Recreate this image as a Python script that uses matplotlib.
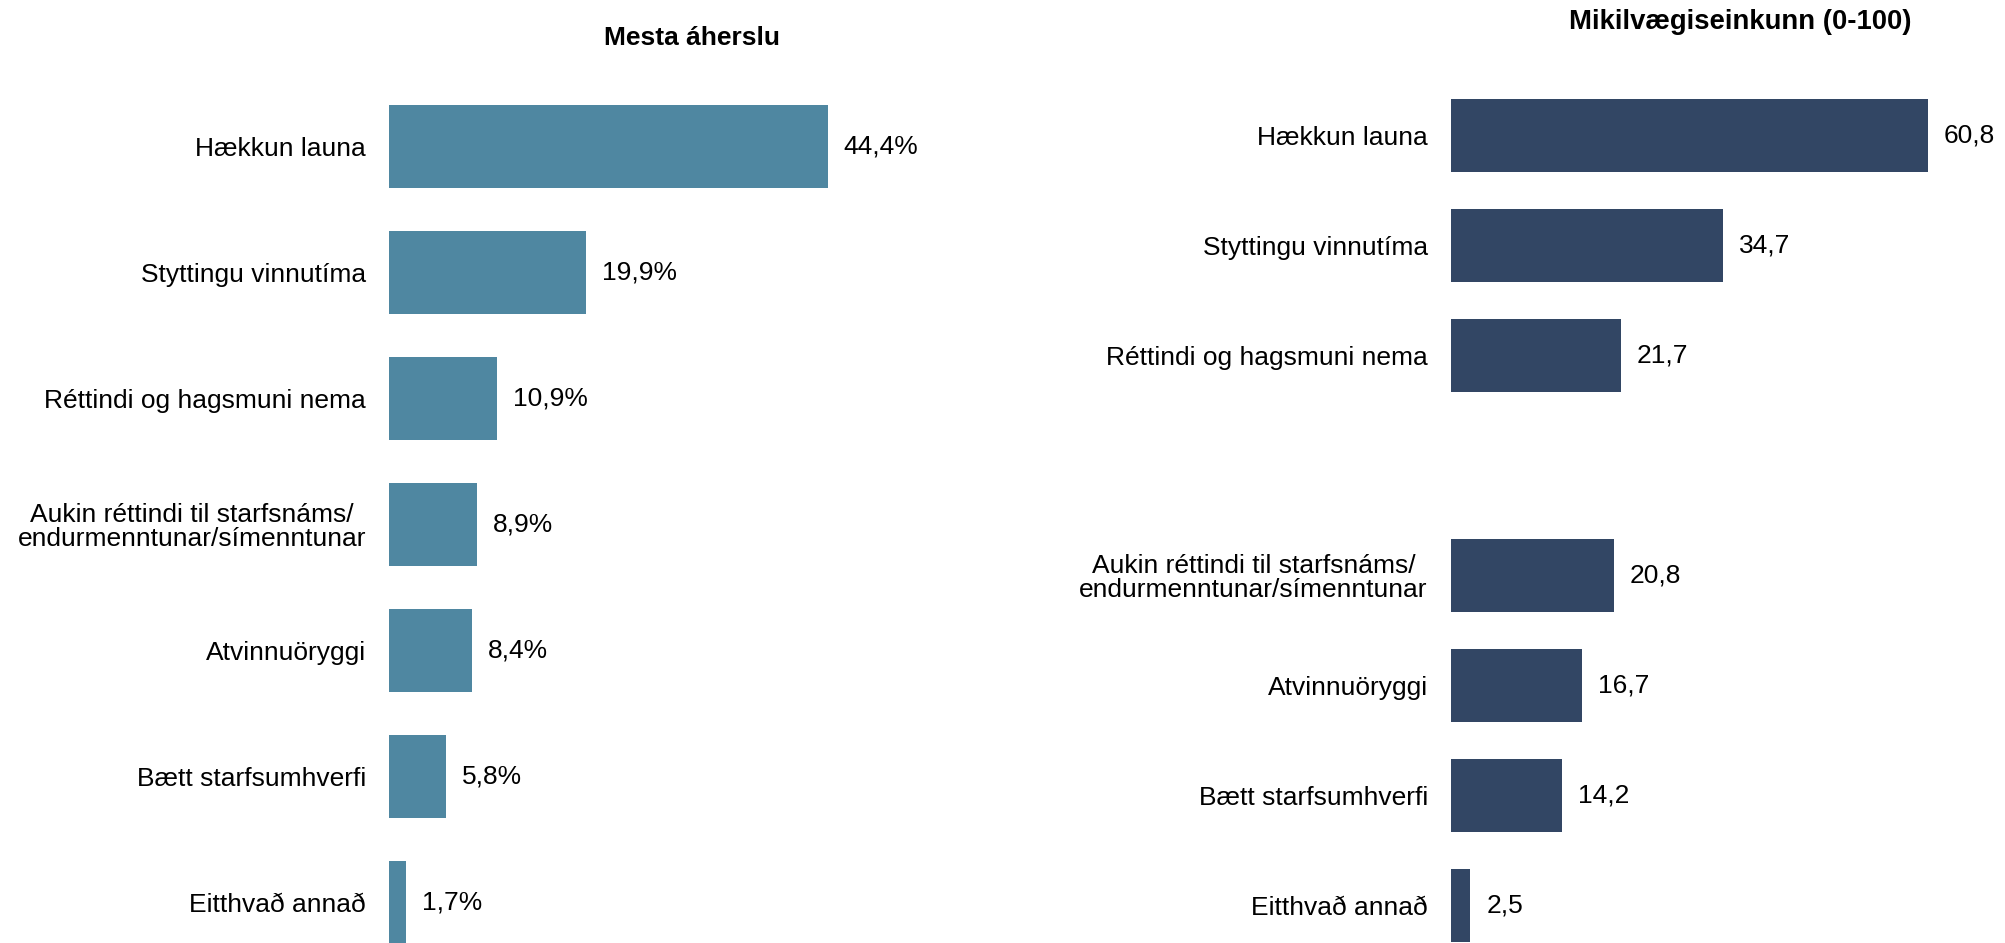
import matplotlib
matplotlib.use("Agg")
import matplotlib.pyplot as plt

plt.rcParams['font.family'] = ['Liberation Sans', 'DejaVu Sans']

categories_left = ["Hækkun launa", "Styttingu vinnutíma", "Réttindi og hagsmuni nema",
                   "Aukin réttindi til starfsnáms/\nendurmenntunar/símenntunar",
                   "Atvinnuöryggi", "Bætt starfsumhverfi", "Eitthvað annað"]
values_left = [44.4, 19.9, 10.9, 8.9, 8.4, 5.8, 1.7]
labels_left = ["44,4%", "19,9%", "10,9%", "8,9%", "8,4%", "5,8%", "1,7%"]

categories_right = ["Hækkun launa", "Styttingu vinnutíma", "Réttindi og hagsmuni nema",
                    "Aukin réttindi til starfsnáms/\nendurmenntunar/símenntunar",
                    "Atvinnuöryggi", "Bætt starfsumhverfi", "Eitthvað annað"]
values_right = [60.8, 34.7, 21.7, 20.8, 16.7, 14.2, 2.5]
labels_right = ["60,8", "34,7", "21,7", "20,8", "16,7", "14,2", "2,5"]
slots_right = [0, 1, 2, 4, 5, 6, 7]  # one empty slot between 3rd and 4th bar

title_left = "Mesta áherslu"
title_right = "Mikilvægiseinkunn (0-100)"

W, H = 2006, 943
DPI = 100
fig = plt.figure(figsize=(W / DPI, H / DPI), dpi=DPI)

FS = 19
c_left = "#4F87A1"
c_right = "#324664"

def make_panel(x0_px, xmax, px_per_unit, c0_px, spacing_px, positions, cats, vals, labs, color):
    width_px = xmax * px_per_unit
    ax = fig.add_axes([x0_px / W, 0, width_px / W, 1])
    ax.barh(positions, vals, height=0.66, color=color)
    ylo = (H - c0_px) / spacing_px
    yhi = -c0_px / spacing_px
    ax.set_ylim(ylo, yhi)
    ax.set_xlim(0, xmax)
    ax.set_yticks(positions)
    ax.set_yticklabels(cats, fontsize=FS, multialignment='center', linespacing=1.0)
    ax.tick_params(axis='y', length=0, pad=16.5)
    ax.set_xticks([])
    for s in ax.spines.values():
        s.set_visible(False)
    for p, v, l in zip(positions, vals, labs):
        ax.annotate(l, (v, p), xytext=(11.5, 0), textcoords='offset points',
                    va='center', ha='left', fontsize=FS)
    return ax

make_panel(389, 50, 9.883, 146.5, 126.0, list(range(len(values_left))),
           categories_left, values_left, labels_left, c_left)
make_panel(1450.7, 70, 7.849, 135.6, 110.0, slots_right,
           categories_right, values_right, labels_right, c_right)

fig.text(692 / W, 1 - 38 / H, title_left, ha='center', va='center', fontsize=FS, fontweight='bold')
fig.text(1740 / W, 1 - 22 / H, title_right, ha='center', va='center', fontsize=19.8, fontweight='bold')

fig.savefig("out.png", dpi=DPI)
